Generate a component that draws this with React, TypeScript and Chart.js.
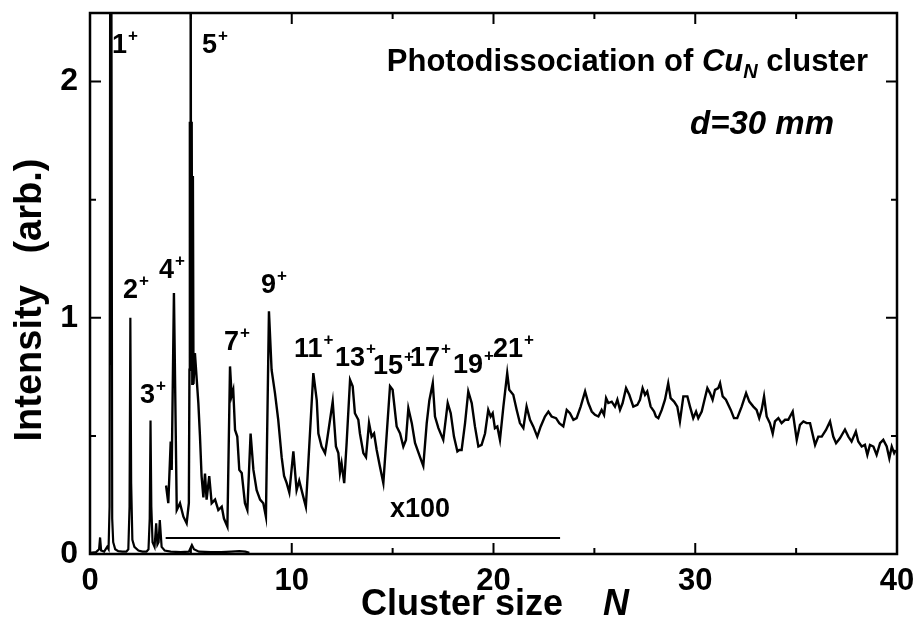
import React, { useEffect, useRef } from "react";
import { Chart, registerables } from "chart.js";

Chart.register(...registerables);

const FONT = '"Liberation Sans", Arial, Helvetica, sans-serif';

// ---- axis ranges / ticks ----
const xRange = [0, 40];
const yRange = [0, 2.29];
const xMajorTicks = [0, 10, 20, 30, 40];
const xMinorTicks = [5, 15, 25, 35];
const yMajorTicks = [0, 1, 2];
const yMinorTicks = [0.5, 1.5];

// ---- raw spectrum (x1), [N, intensity] ----
const spectrumX1: [number, number][] = [
  [0, 0.005], [0.3, 0.008], [0.45, 0.02], [0.5, 0.07], [0.55, 0.015], [0.7, 0.01],
  [0.85, 0.03], [0.92, 0.02], [0.97, 0.2], [1.0, 2.6], [1.03, 0.8], [1.06, 2.6], [1.1, 0.15],
  [1.15, 0.05], [1.25, 0.02], [1.4, 0.012], [1.6, 0.01], [1.8, 0.01], [1.9, 0.02],
  [1.96, 0.2], [2.0, 1.0], [2.04, 0.3], [2.1, 0.06], [2.2, 0.03], [2.4, 0.015],
  [2.6, 0.01], [2.8, 0.01], [2.9, 0.02], [2.96, 0.15], [3.0, 0.565], [3.04, 0.2],
  [3.1, 0.05], [3.2, 0.03], [3.28, 0.13], [3.34, 0.04], [3.4, 0.05], [3.46, 0.144],
  [3.55, 0.03], [3.7, 0.015], [4.0, 0.01], [4.5, 0.008], [4.9, 0.01], [5.05, 0.038],
  [5.15, 0.02], [5.4, 0.01], [6.0, 0.008], [6.5, 0.008], [7.0, 0.01], [7.4, 0.012],
  [7.7, 0.01], [7.9, 0.005],
];

// ---- magnified spectrum (x100), [N, intensity] ----
const spectrumX100: [number, number][] = [
  [3.77, 0.29], [3.88, 0.215], [4.0, 0.476], [4.05, 0.356], [4.16, 1.105], [4.3, 0.186],
  [4.46, 0.215], [4.63, 0.158], [4.79, 0.13], [4.9, 0.215], [4.93, 0.78], [4.95, 1.83],
  [4.97, 0.9], [4.99, 2.5], [5.01, 1.0], [5.04, 1.83], [5.07, 0.72], [5.1, 1.6],
  [5.13, 0.72], [5.2, 0.85], [5.37, 0.64], [5.45, 0.5], [5.53, 0.33], [5.62, 0.24],
  [5.7, 0.34], [5.78, 0.23], [5.91, 0.33], [6.03, 0.215], [6.2, 0.23], [6.36, 0.186],
  [6.53, 0.2], [6.64, 0.15], [6.81, 0.116], [6.94, 0.794], [7.02, 0.67], [7.1, 0.695],
  [7.19, 0.525], [7.3, 0.497], [7.4, 0.356], [7.52, 0.343], [7.68, 0.215], [7.8, 0.186],
  [7.96, 0.51], [8.1, 0.356], [8.26, 0.27], [8.43, 0.23], [8.59, 0.215], [8.72, 0.158],
  [8.87, 1.027], [9.0, 0.78], [9.17, 0.68], [9.33, 0.568], [9.5, 0.41], [9.62, 0.33],
  [9.75, 0.3], [9.88, 0.26], [10.08, 0.434], [10.24, 0.27], [10.37, 0.31], [10.57, 0.243],
  [10.7, 0.2], [11.07, 0.766], [11.24, 0.65], [11.32, 0.51], [11.48, 0.455], [11.65, 0.427],
  [11.73, 0.47], [12.03, 0.645], [12.19, 0.455], [12.31, 0.427], [12.39, 0.343], [12.47, 0.384],
  [12.6, 0.3], [12.72, 0.47], [12.89, 0.737], [13.02, 0.71], [13.13, 0.596], [13.3, 0.568],
  [13.38, 0.51], [13.55, 0.427], [13.68, 0.41], [13.83, 0.554], [13.96, 0.497], [14.08, 0.51],
  [14.21, 0.44], [14.37, 0.37], [14.54, 0.3], [14.87, 0.71], [15.0, 0.695], [15.2, 0.54],
  [15.37, 0.51], [15.53, 0.455], [15.66, 0.483], [15.78, 0.617], [15.95, 0.554], [16.11, 0.47],
  [16.36, 0.41], [16.52, 0.373], [16.69, 0.554], [16.82, 0.65], [16.99, 0.723], [17.1, 0.582],
  [17.27, 0.533], [17.51, 0.483], [17.73, 0.639], [17.88, 0.596], [18.04, 0.497], [18.21, 0.434],
  [18.3, 0.44], [18.42, 0.44], [18.59, 0.554], [18.75, 0.688], [18.92, 0.639], [19.08, 0.54],
  [19.25, 0.455], [19.41, 0.462], [19.58, 0.51], [19.74, 0.61], [19.86, 0.582], [19.96, 0.596],
  [20.07, 0.533], [20.19, 0.54], [20.32, 0.483], [20.49, 0.624], [20.68, 0.766], [20.78, 0.695],
  [20.98, 0.674], [21.15, 0.61], [21.31, 0.554], [21.48, 0.533], [21.64, 0.624], [21.81, 0.568],
  [21.97, 0.54], [22.17, 0.497], [22.34, 0.54], [22.55, 0.582], [22.72, 0.603], [22.88, 0.582],
  [23.1, 0.575], [23.26, 0.554], [23.46, 0.54], [23.63, 0.61], [23.79, 0.596], [23.96, 0.568],
  [24.12, 0.575], [24.32, 0.624], [24.54, 0.688], [24.7, 0.639], [24.87, 0.603], [25.03, 0.589],
  [25.2, 0.582], [25.36, 0.61], [25.48, 0.589], [25.58, 0.66], [25.69, 0.639], [25.86, 0.645],
  [26.02, 0.624], [26.14, 0.653], [26.27, 0.61], [26.4, 0.639], [26.57, 0.702], [26.73, 0.674],
  [26.93, 0.624], [27.13, 0.631], [27.26, 0.653], [27.39, 0.702], [27.51, 0.674], [27.62, 0.688],
  [27.79, 0.624], [27.96, 0.603], [28.05, 0.582], [28.17, 0.575], [28.34, 0.61], [28.5, 0.653],
  [28.66, 0.723], [28.78, 0.66], [28.95, 0.645], [29.11, 0.624], [29.24, 0.561], [29.41, 0.667],
  [29.61, 0.667], [29.74, 0.624], [29.9, 0.575], [30.04, 0.603], [30.15, 0.575], [30.32, 0.603],
  [30.48, 0.66], [30.6, 0.702], [30.73, 0.681], [30.86, 0.653], [30.98, 0.695], [31.14, 0.702],
  [31.23, 0.723], [31.36, 0.667], [31.52, 0.653], [31.76, 0.61], [31.92, 0.575], [32.08, 0.575],
  [32.3, 0.624], [32.52, 0.681], [32.68, 0.645], [32.88, 0.624], [33.04, 0.61], [33.17, 0.575],
  [33.29, 0.61], [33.41, 0.667], [33.54, 0.582], [33.7, 0.554], [33.84, 0.51], [33.95, 0.561],
  [34.12, 0.575], [34.28, 0.554], [34.45, 0.568], [34.61, 0.568], [34.83, 0.603], [35.03, 0.483],
  [35.19, 0.547], [35.36, 0.561], [35.52, 0.554], [35.69, 0.554], [35.94, 0.462], [36.1, 0.497],
  [36.27, 0.497], [36.48, 0.525], [36.68, 0.561], [36.84, 0.497], [36.98, 0.469], [37.17, 0.49],
  [37.42, 0.527], [37.59, 0.497], [37.75, 0.476], [37.96, 0.518], [38.08, 0.476], [38.25, 0.455],
  [38.41, 0.462], [38.53, 0.42], [38.66, 0.462], [38.83, 0.455], [38.99, 0.42], [39.16, 0.469],
  [39.32, 0.483], [39.49, 0.455], [39.62, 0.405], [39.74, 0.455], [39.86, 0.427], [39.94, 0.44],
];

// ---- zero line of the x100 trace ----
const x100BaselineN = [3.75, 23.3];
const x100BaselineI = [0.068, 0.068];

// ---- peak labels (cluster size N+), anchored in data coordinates ----
const peakLabels = ["1", "5", "2", "4", "3", "7", "9", "11", "13", "15", "17", "19", "21"];
const peakLabelN = [1.09, 5.55, 1.64, 3.42, 2.48, 6.64, 8.48, 10.11, 12.14, 14.03, 15.86, 17.99, 19.97];
const peakLabelI = [2.12, 2.12, 1.085, 1.17, 0.64, 0.864, 1.106, 0.835, 0.797, 0.763, 0.797, 0.767, 0.835];

const magLabel = "x100";
const magLabelPos = [14.87, 0.157];

const titleParts = ["Photodissociation of ", "Cu", "N", " cluster"];
const distanceLabel = "d=30 mm";
const yTitle = "Intensity   (arb.)";
const xTitle = ["Cluster size", "N"];

const toXY = (arr: [number, number][]) => arr.map(([x, y]) => ({ x, y }));

const decorPlugin = {
  id: "decor",
  afterDatasetsDraw(chart: any) {
    const ctx: CanvasRenderingContext2D = chart.ctx;
    const { left, right, top, bottom } = chart.chartArea;
    const xs = chart.scales.x;
    const ys = chart.scales.y;
    ctx.save();
    ctx.strokeStyle = "#000";
    ctx.fillStyle = "#000";
    // frame
    ctx.lineWidth = 2.5;
    ctx.strokeRect(left, top, right - left, bottom - top);
    // inward ticks
    ctx.lineWidth = 2;
    const tickX = (v: number, len: number) => {
      const px = xs.getPixelForValue(v);
      ctx.beginPath();
      ctx.moveTo(px, bottom); ctx.lineTo(px, bottom - len);
      ctx.moveTo(px, top); ctx.lineTo(px, top + len);
      ctx.stroke();
    };
    const tickY = (v: number, len: number) => {
      const py = ys.getPixelForValue(v);
      ctx.beginPath();
      ctx.moveTo(left, py); ctx.lineTo(left + len, py);
      ctx.moveTo(right, py); ctx.lineTo(right - len, py);
      ctx.stroke();
    };
    xMajorTicks.forEach((v) => tickX(v, 11));
    xMinorTicks.forEach((v) => tickX(v, 6));
    yMajorTicks.forEach((v) => tickY(v, 11));
    yMinorTicks.forEach((v) => tickY(v, 6));

    // peak labels
    ctx.textBaseline = "alphabetic";
    ctx.textAlign = "left";
    peakLabels.forEach((t, i) => {
      const px = xs.getPixelForValue(peakLabelN[i]);
      const py = ys.getPixelForValue(peakLabelI[i]);
      ctx.font = `bold 27px ${FONT}`;
      ctx.fillText(t, px, py);
      const w = ctx.measureText(t).width;
      ctx.font = `bold 17px ${FONT}`;
      ctx.fillText("+", px + w + 1, py - 12);
    });

    // x100 label
    ctx.font = `bold 27px ${FONT}`;
    ctx.fillText(magLabel, xs.getPixelForValue(magLabelPos[0]), ys.getPixelForValue(magLabelPos[1]));

    // title (right aligned)
    const f1 = `bold 31px ${FONT}`;
    const fi = `italic bold 31px ${FONT}`;
    const fs = `italic bold 20px ${FONT}`;
    const fonts = [f1, fi, fs, f1];
    const widths = titleParts.map((p, i) => { ctx.font = fonts[i]; return ctx.measureText(p).width; });
    const total = widths.reduce((a, b) => a + b, 0);
    let tx = right - 29 - total;
    const ty = top + 58;
    titleParts.forEach((p, i) => {
      ctx.font = fonts[i];
      ctx.fillText(p, tx, i === 2 ? ty + 7 : ty);
      tx += widths[i];
    });

    // distance label
    ctx.font = `italic bold 33px ${FONT}`;
    ctx.textAlign = "right";
    ctx.fillText(distanceLabel, right - 63, top + 121);

    // y title
    ctx.save();
    ctx.translate(31, 300);
    ctx.rotate(-Math.PI / 2);
    ctx.textAlign = "center";
    ctx.textBaseline = "middle";
    ctx.font = `bold 38px ${FONT}`;
    ctx.fillText(yTitle, 0, 0);
    ctx.restore();

    // x title
    ctx.textAlign = "left";
    ctx.font = `bold 36px ${FONT}`;
    ctx.fillText(xTitle[0], 361, 615);
    ctx.font = `italic bold 36px ${FONT}`;
    ctx.fillText(xTitle[1], 603, 615);
    ctx.restore();
  },
};

const zeroPad = (s: any) => {
  s.paddingTop = 0;
  s.paddingBottom = 0;
  s.paddingLeft = 0;
  s.paddingRight = 0;
};

export default function App() {
  const ref = useRef<HTMLCanvasElement>(null);
  useEffect(() => {
    document.body.style.margin = "0";
    const canvas = ref.current!;
    const chart = new Chart(canvas, {
      type: "line",
      data: {
        datasets: [
          {
            data: toXY(spectrumX1),
            borderColor: "#000",
            borderWidth: 2.2,
            pointRadius: 0,
          },
          {
            data: toXY(spectrumX100),
            borderColor: "#000",
            borderWidth: 2.4,
            pointRadius: 0,
          },
          {
            data: x100BaselineN.map((x, i) => ({ x, y: x100BaselineI[i] })),
            borderColor: "#000",
            borderWidth: 2,
            pointRadius: 0,
          },
        ],
      },
      options: {
        animation: false,
        responsive: false,
        layout: { padding: { top: 13, right: 23, left: 0, bottom: 0 } },
        plugins: { legend: { display: false }, tooltip: { enabled: false } },
        elements: { line: { tension: 0 } },
        scales: {
          x: {
            type: "linear",
            min: xRange[0],
            max: xRange[1],
            grid: { display: false, drawTicks: false },
            border: { display: false },
            ticks: {
              stepSize: 10,
              includeBounds: false,
              color: "#000",
              padding: 9,
              font: { family: FONT, size: 31, weight: "bold" },
              maxRotation: 0,
            },
            afterFit: (s: any) => { s.height = 67; zeroPad(s); },
          },
          y: {
            min: yRange[0],
            max: yRange[1],
            grid: { display: false, drawTicks: false },
            border: { display: false },
            ticks: {
              stepSize: 1,
              includeBounds: false,
              color: "#000",
              padding: 12,
              font: { family: FONT, size: 32, weight: "bold" },
            },
            afterFit: (s: any) => { s.width = 90; zeroPad(s); },
          },
        },
      },
      plugins: [decorPlugin],
    });
    return () => chart.destroy();
  }, []);
  return (
    <div style={{ width: 920, height: 621, background: "#fff" }}>
      <canvas ref={ref} width={920} height={621} style={{ display: "block" }} />
    </div>
  );
}
